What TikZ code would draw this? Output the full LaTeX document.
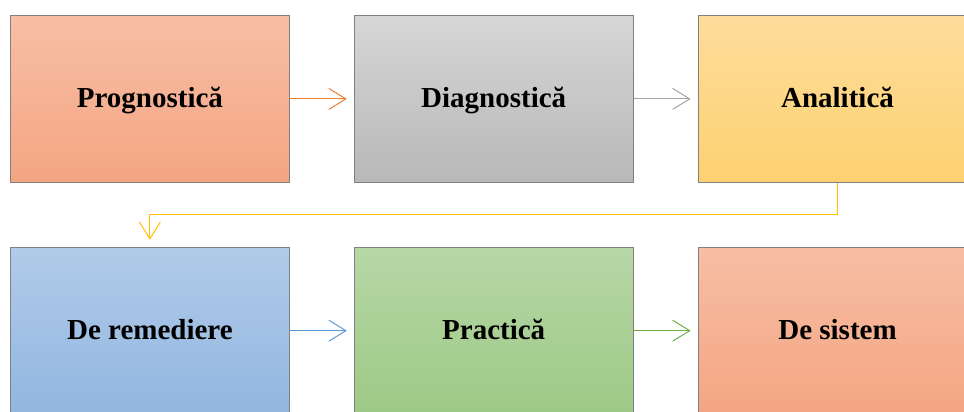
\documentclass[tikz,border=0pt]{standalone}
\usepackage{fontspec}
\setmainfont{Liberation Serif}
\usetikzlibrary{positioning}
\usetikzlibrary{arrows.meta}

\definecolor{salmonTop}{RGB}{247,190,165}
\definecolor{salmonBot}{RGB}{244,165,130}
\definecolor{grayTop}{RGB}{214,214,214}
\definecolor{grayBot}{RGB}{184,184,184}
\definecolor{goldTop}{RGB}{254,221,156}
\definecolor{goldBot}{RGB}{253,209,112}
\definecolor{blueTop}{RGB}{177,203,233}
\definecolor{blueBot}{RGB}{145,182,224}
\definecolor{greenTop}{RGB}{183,215,167}
\definecolor{greenBot}{RGB}{157,201,133}
\definecolor{orangeLine}{RGB}{237,125,49}
\definecolor{grayLine}{RGB}{165,165,165}
\definecolor{goldLine}{RGB}{255,192,0}
\definecolor{blueLine}{RGB}{91,155,213}
\definecolor{greenLine}{RGB}{112,173,71}

\begin{document}
\begin{tikzpicture}[
		stage/.style={draw=black!50, line width=0.8pt, minimum width=279pt, minimum height=167pt,
			inner sep=0pt, text height=20pt, text depth=2pt,
			font=\bfseries\fontsize{29}{34}\selectfont},
		link/.style={line width=1pt, shorten >=7pt, -{Straight Barb[length=17pt,width=21pt,line width=1pt]}},
		node distance=64pt and 64pt
	]
		\useasboundingbox (0,0) rectangle (964pt,-412pt);
		\clip (0,0) rectangle (964pt,-412pt);
		% top row
		\node[stage, anchor=north west, top color=salmonTop, bottom color=salmonBot] (prog) at (10pt,-15pt) {Prognostică};
		\node[stage, right=of prog, top color=grayTop, bottom color=grayBot] (diag) {Diagnostică};
		\node[stage, right=of diag, top color=goldTop, bottom color=goldBot] (anal) {Analitică};
		% bottom row
		\node[stage, below=of prog, top color=blueTop, bottom color=blueBot] (rem) {De remediere};
		\node[stage, right=of rem, top color=greenTop, bottom color=greenBot] (prac) {Practică};
		\node[stage, right=of prac, top color=salmonTop, bottom color=salmonBot] (sist) {De sistem};
		% arrows
		\draw[link, goldLine] (anal.south) -- ++(0,-32pt) -| (rem.north);
		\draw[link, orangeLine] (prog) -- (diag);
		\draw[link, grayLine] (diag) -- (anal);
		\draw[link, blueLine] (rem) -- (prac);
		\draw[link, greenLine] (prac) -- (sist);
\end{tikzpicture}
\end{document}
